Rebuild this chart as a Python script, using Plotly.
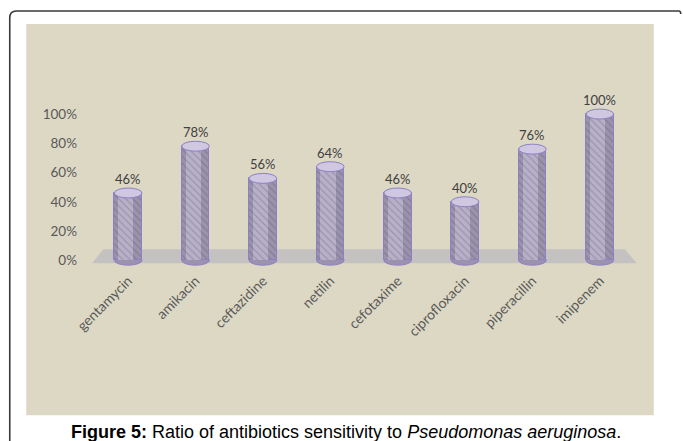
import plotly.graph_objects as go

# ---- data ----
antibiotics = ["gentamycin", "amikacin", "ceftazidine", "netilin",
               "cefotaxime", "ciprofloxacin", "piperacillin", "imipenem"]
sensitivity = [46, 78, 56, 64, 46, 40, 76, 100]
y_ticks = [0, 20, 40, 60, 80, 100]
y_ticktext = ["0%", "20%", "40%", "60%", "80%", "100%"]
caption = ("<b>Figure 5:</b> Ratio of antibiotics sensitivity to "
           "<i>Pseudomonas aeruginosa</i>.")

# ---- layout geometry (pixels) ----
FW, FH = 683, 441
L, T, W, H = 80.8, 41.0, 566.4, 227.8
XR = [-0.7, len(antibiotics) - 1 + 0.7]
YR = [-6, 150]


def px(x):
    return (x - L) / W


def py(y):
    return 1 - (y - T) / H


BAR_W = 0.41
ELL_H = 3.4
n = len(antibiotics)
xs = list(range(n))

fig = go.Figure()

# outer body of cylinder
fig.add_trace(go.Bar(
    x=xs, y=sensitivity, width=BAR_W,
    marker=dict(color="#9b93ad",
                line=dict(color="#8d80c6", width=1),
                pattern=dict(shape="\\", size=5, solidity=0.22,
                             fgcolor="#6a647a", bgcolor="#9b93ad",
                             fillmode="overlay")),
    hoverinfo="skip", showlegend=False))
# lighter inner band (cylinder highlight)
fig.add_trace(go.Bar(
    x=xs, y=sensitivity, width=BAR_W * 0.55, offset=-BAR_W * 0.36,
    marker=dict(color="#b8b0c9", line=dict(width=0),
                pattern=dict(shape="\\", size=5, solidity=0.22,
                             fgcolor="#7a748a", bgcolor="#b8b0c9",
                             fillmode="overlay")),
    hoverinfo="skip", showlegend=False))

shapes = []
# beige panel
shapes.append(dict(type="rect", xref="paper", yref="paper",
                   x0=px(26), x1=px(654), y0=py(415), y1=py(24),
                   fillcolor="#ddd8c4", line=dict(width=0), layer="below"))
# floor
fl = -0.534
fr = n - 1 + 0.55
shapes.append(dict(type="path", xref="x", yref="y",
                   path=f"M {fl},-2.05 L {fl + 0.163},7.5 L {fr - 0.18},7.5 L {fr},-2.05 Z",
                   fillcolor="#c3c2c1", line=dict(width=0), layer="below"))
# bottom ellipses
for i, v in zip(xs, sensitivity):
    shapes.append(dict(type="circle", xref="x", yref="y",
                       x0=i - BAR_W / 2, x1=i + BAR_W / 2, y0=-ELL_H, y1=ELL_H,
                       fillcolor="#9b93ad", line=dict(color="#8d80c6", width=1),
                       layer="below"))
# top ellipses
for i, v in zip(xs, sensitivity):
    shapes.append(dict(type="circle", xref="x", yref="y",
                       x0=i - BAR_W / 2, x1=i + BAR_W / 2,
                       y0=v - ELL_H, y1=v + ELL_H,
                       fillcolor="#cfc8e0", line=dict(color="#8d80c6", width=1),
                       layer="above"))
# outer frame with rounded corner
shapes.append(dict(type="path", xref="paper", yref="paper",
                   path=(f"M {px(9.5)},{py(445)} L {px(9.5)},{py(18)} "
                         f"Q {px(9.5)},{py(11)} {px(16)},{py(11)} "
                         f"L {px(679)},{py(11)} Q {px(681)},{py(11)} {px(681)},{py(14)}"),
                   line=dict(color="#3a3a3a", width=1.6), layer="above"))

annotations = []
for i, v in zip(xs, sensitivity):
    annotations.append(dict(x=i, y=v, xref="x", yref="y", text=f"{v}%",
                            showarrow=False, yanchor="bottom", yshift=4,
                            font=dict(family="Lato", size=13, color="#404040")))
annotations.append(dict(x=px(346), y=py(432), xref="paper", yref="paper",
                        text=caption, showarrow=False,
                        xanchor="center", yanchor="middle",
                        font=dict(family="Liberation Sans", size=18, color="#000000")))

fig.update_layout(
    width=FW, height=FH,
    margin=dict(l=L, r=FW - L - W, t=T, b=FH - T - H, pad=0),
    paper_bgcolor="white", plot_bgcolor="rgba(0,0,0,0)",
    barmode="overlay", bargap=0,
    shapes=shapes, annotations=annotations,
    xaxis=dict(range=XR, tickvals=xs, ticktext=antibiotics, tickangle=-45,
               showgrid=False, zeroline=False, showline=False, ticks="",
               tickfont=dict(family="Lato", size=14, color="#595959")),
    yaxis=dict(range=YR, tickvals=y_ticks, ticktext=y_ticktext,
               showgrid=False, zeroline=False, showline=False, ticks="",
               ticklabelstandoff=3,
               tickfont=dict(family="Lato", size=13.5, color="#595959")),
)

fig.write_html("out.html",
               config={"displayModeBar": False},
               post_script="document.body.style.margin='0';"
                           "document.body.style.overflow='hidden';")
